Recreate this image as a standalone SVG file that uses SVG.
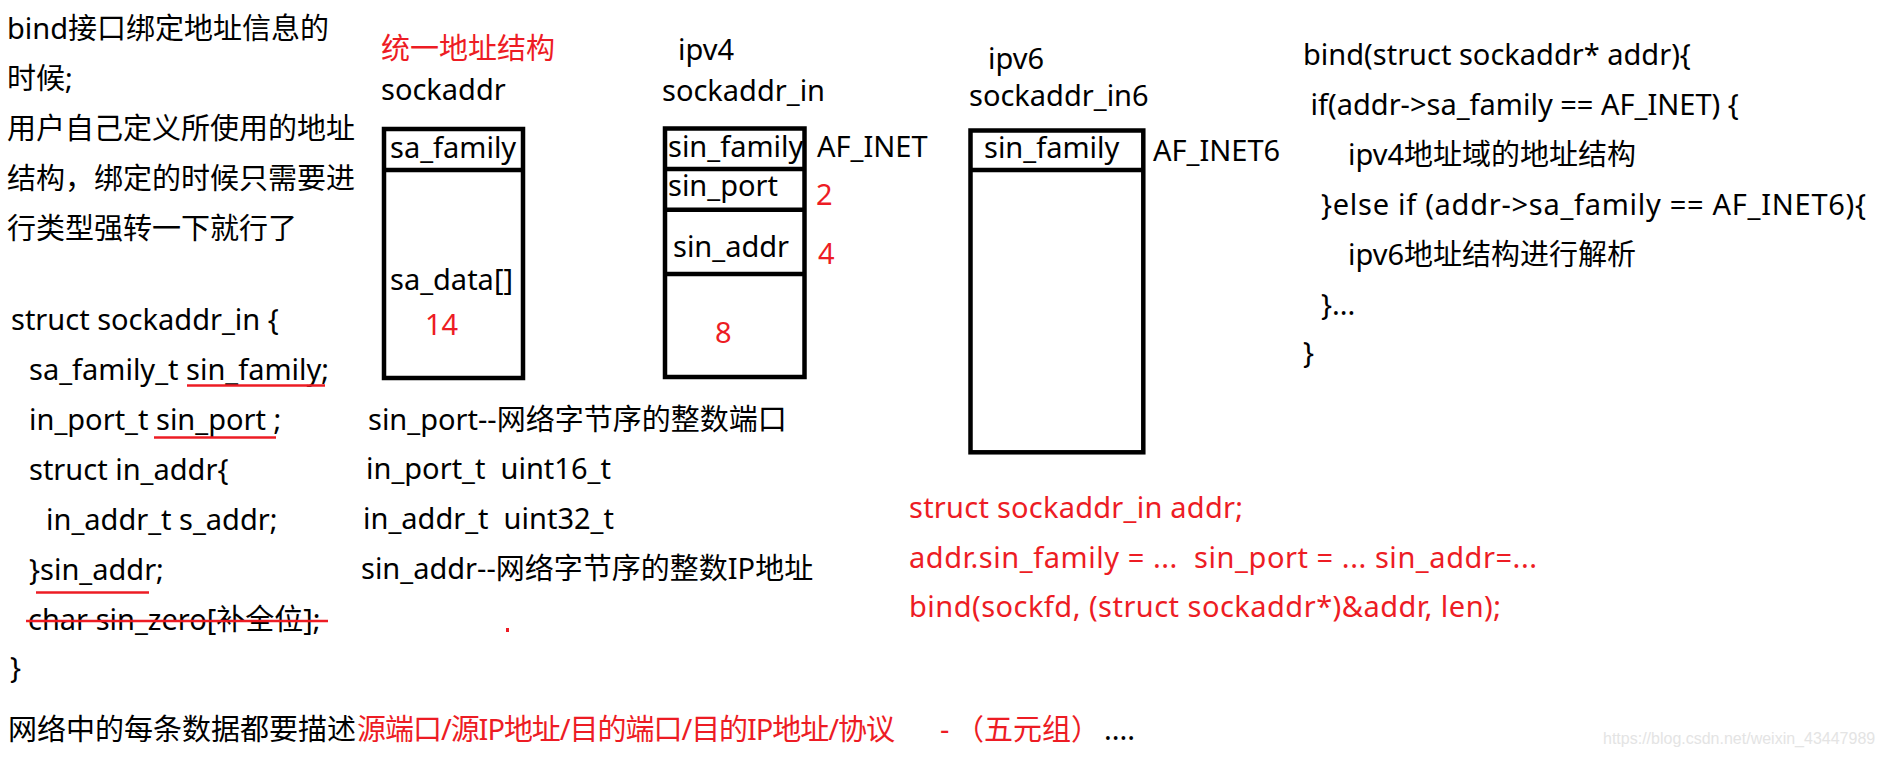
<svg xmlns="http://www.w3.org/2000/svg" width="1883" height="758" viewBox="0 0 1883 758">
<style>
text{font-family:"Noto Sans","Noto Sans CJK SC",sans-serif;font-size:29px;fill:#000;white-space:pre}
.r{fill:#ed1c24}
.box{fill:none;stroke:#000;stroke-width:4.5}
.ul{stroke:#ed1c24;stroke-width:2.5;fill:none}
.wm{font-family:"Liberation Sans",Arial,sans-serif;font-size:16px;fill:#e4e4e4}
</style>
<rect width="1883" height="758" fill="#fff"/>
<g id="intro">
<text x="7" y="39">bind接口绑定地址信息的</text>
<text x="7" y="89">时候;</text>
<text x="7" y="139">用户自己定义所使用的地址</text>
<text x="7" y="189">结构，绑定的时候只需要进</text>
<text x="7" y="239">行类型强转一下就行了</text>
</g>
<g id="struct-def">
<text x="11" y="330">struct sockaddr_in {</text>
<text x="29" y="380">sa_family_t sin_family;</text>
<text x="29" y="430">in_port_t sin_port ;</text>
<text x="29" y="480">struct in_addr{</text>
<text x="46" y="530">in_addr_t s_addr;</text>
<text x="29" y="580">}sin_addr;</text>
<text x="28" y="630">char sin_zero[补全位];</text>
<text x="10" y="678">}</text>
</g>
<g id="marks">
<line class="ul" x1="187" y1="385.5" x2="325" y2="385.5"/>
<line class="ul" x1="154" y1="437.5" x2="276" y2="437.5"/>
<line class="ul" x1="36" y1="592.5" x2="149" y2="592.5"/>
<line class="ul" x1="26" y1="621" x2="328" y2="621" stroke-width="3"/>
<rect x="506" y="628" width="3" height="4" fill="#ed1c24"/>
</g>
<g id="sockaddr">
<text class="r" x="381" y="59">统一地址结构</text>
<text x="381" y="100">sockaddr</text>
<rect class="box" x="384" y="129" width="139" height="249"/>
<line class="box" x1="384" y1="170" x2="523" y2="170"/>
<text x="390" y="158">sa_family</text>
<text x="390" y="290">sa_data[]</text>
<text class="r" x="425" y="335">14</text>
</g>
<g id="sockaddr_in">
<text x="678" y="60">ipv4</text>
<text x="662" y="101">sockaddr_in</text>
<rect class="box" x="665" y="128.5" width="139.5" height="248.5"/>
<line class="box" x1="665" y1="169" x2="804.5" y2="169"/>
<line class="box" x1="665" y1="209.7" x2="804.5" y2="209.7"/>
<line class="box" x1="665" y1="274" x2="804.5" y2="274"/>
<text x="668" y="157">sin_family</text>
<text x="668" y="196">sin_port</text>
<text x="673" y="257">sin_addr</text>
<text class="r" x="715" y="343">8</text>
<text x="817" y="157">AF_INET</text>
<text class="r" x="816" y="205">2</text>
<text class="r" x="818" y="264">4</text>
</g>
<g id="sockaddr_in6">
<text x="988" y="69">ipv6</text>
<text x="969" y="106">sockaddr_in6</text>
<rect class="box" x="970.5" y="130.5" width="172.8" height="321.8"/>
<line class="box" x1="970.5" y1="170" x2="1143.3" y2="170"/>
<text x="984" y="158">sin_family</text>
<text x="1153" y="161">AF_INET6</text>
</g>
<g id="types">
<text x="368" y="430">sin_port--网络字节序的整数端口</text>
<text x="366" y="479">in_port_t  uint16_t</text>
<text x="363" y="529">in_addr_t  uint32_t</text>
<text x="361" y="579">sin_addr--网络字节序的整数IP地址</text>
</g>
<g id="bind-code">
<text x="1303" y="65">bind(struct sockaddr* addr){</text>
<text x="1303" y="115"> if(addr-&gt;sa_family == AF_INET) {</text>
<text x="1348" y="165">ipv4地址域的地址结构</text>
<text x="1321" y="215" textLength="545" lengthAdjust="spacing">}else if (addr-&gt;sa_family == AF_INET6){</text>
<text x="1348" y="265">ipv6地址结构进行解析</text>
<text x="1321" y="315">}...</text>
<text x="1303" y="363">}</text>
</g>
<g id="usage">
<text class="r" x="909" y="518" textLength="334" lengthAdjust="spacing">struct sockaddr_in addr;</text>
<text class="r" x="909" y="568" textLength="628" lengthAdjust="spacing">addr.sin_family = ...  sin_port = ... sin_addr=...</text>
<text class="r" x="909" y="617" textLength="592" lengthAdjust="spacing">bind(sockfd, (struct sockaddr*)&amp;addr, len);</text>
</g>
<g id="summary">
<text x="8" y="740">网络中的每条数据都要描述</text>
<text class="r" x="357" y="740" textLength="538" lengthAdjust="spacing">源端口/源IP地址/目的端口/目的IP地址/协议</text>
<text class="r" x="940" y="740">-</text>
<text class="r" x="955" y="740">（五元组）</text>
<text x="1104" y="740">....</text>
</g>
<text class="wm" x="1603" y="744">https://blog.csdn.net/weixin_43447989</text>
</svg>
